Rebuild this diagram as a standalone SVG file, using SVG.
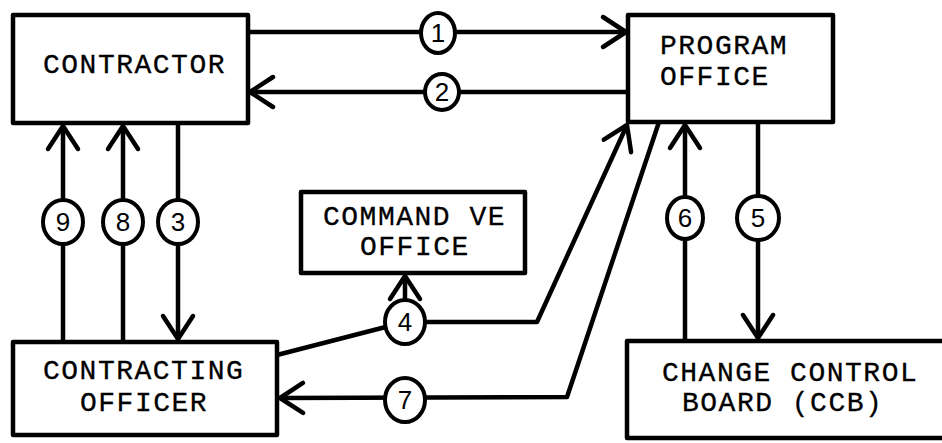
<svg xmlns="http://www.w3.org/2000/svg" width="942" height="443" viewBox="0 0 942 443">
<style>
.box{fill:#fff;stroke:#000;stroke-width:4.5;stroke-linejoin:round}
.lbl{font-family:"Liberation Mono","DejaVu Sans Mono",monospace;font-size:28px;letter-spacing:1.5px;fill:#000;stroke:#000;stroke-width:0.3}
.ln{fill:none;stroke:#000;stroke-width:4.5;stroke-linejoin:round}
.arr{marker-end:url(#ah)}
.num ellipse{fill:#fff;stroke:#000;stroke-width:4}
.num text{font-family:"Liberation Sans","DejaVu Sans",sans-serif;font-size:26px;text-anchor:middle;fill:#000}
</style>
<defs>
<marker id="ah" markerUnits="userSpaceOnUse" markerWidth="30" markerHeight="34" viewBox="-26 -17 30 34" refX="0" refY="0" orient="auto" overflow="visible">
<path d="M-23,-15 L0,0 L-23,15" fill="none" stroke="#000" stroke-width="4.5" stroke-linecap="round" stroke-linejoin="round"/>
</marker>
</defs>
<rect width="942" height="443" fill="#fff"/>
<g id="connectors">
<path class="ln arr" d="M248,32 H626"/>
<path class="ln arr" d="M628,92 H250"/>
<path class="ln arr" d="M178,123 V339"/>
<path class="ln arr" d="M123,342 V126"/>
<path class="ln arr" d="M63,342 V126"/>
<path class="ln arr" d="M277,355 L405,322 L537,322 L627,125"/>
<path class="ln arr" d="M405,322 V276"/>
<path class="ln arr" d="M659,122 L567,397 L280,398"/>
<path class="ln arr" d="M685,340 V125"/>
<path class="ln arr" d="M758,122 V338"/>
<g class="num"><ellipse cx="438" cy="33" rx="17" ry="20"/><text x="438" y="42">1</text></g>
<g class="num"><ellipse cx="442" cy="92" rx="17" ry="18"/><text x="442" y="101">2</text></g>
<g class="num"><ellipse cx="178" cy="222" rx="20" ry="22"/><text x="178" y="231">3</text></g>
<g class="num"><ellipse cx="405" cy="322" rx="20" ry="22"/><text x="405" y="331">4</text></g>
<g class="num"><ellipse cx="758" cy="218" rx="21" ry="22"/><text x="758" y="227">5</text></g>
<g class="num"><ellipse cx="685" cy="218" rx="18" ry="21"/><text x="685" y="227">6</text></g>
<g class="num"><ellipse cx="405" cy="400" rx="20" ry="22"/><text x="405" y="409">7</text></g>
<g class="num"><ellipse cx="123" cy="222" rx="20" ry="22"/><text x="123" y="231">8</text></g>
<g class="num"><ellipse cx="63" cy="222" rx="20" ry="22"/><text x="63" y="231">9</text></g>
</g>
<g id="contractor">
<rect class="box" x="13" y="15" width="235" height="108"/>
<text class="lbl" x="43" y="73">CONTRACTOR</text>
</g>
<g id="program-office">
<rect class="box" x="628" y="15" width="205" height="107"/>
<text class="lbl" x="660" y="54">PROGRAM</text>
<text class="lbl" x="660" y="85">OFFICE</text>
</g>
<g id="command-ve-office">
<rect class="box" x="301" y="192" width="224" height="81"/>
<text class="lbl" x="323" y="225">COMMAND VE</text>
<text class="lbl" x="360" y="255">OFFICE</text>
</g>
<g id="contracting-officer">
<rect class="box" x="13" y="342" width="264" height="93"/>
<text class="lbl" x="43" y="379">CONTRACTING</text>
<text class="lbl" x="80" y="411">OFFICER</text>
</g>
<g id="ccb">
<rect class="box" x="627" y="341" width="330" height="97"/>
<text class="lbl" x="662" y="381">CHANGE CONTROL</text>
<text class="lbl" x="682" y="411">BOARD (CCB)</text>
</g>
</svg>
